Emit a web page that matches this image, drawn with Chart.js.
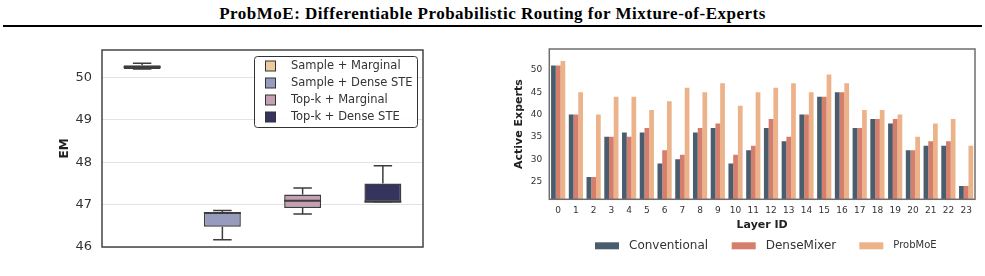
<!DOCTYPE html>
<html>
<head>
<meta charset="utf-8">
<script src="https://cdn.jsdelivr.net/npm/chart.js@4.4.1/dist/chart.umd.min.js"></script>
<style>
  body { margin: 0; background: #fff; width: 985px; height: 276px; overflow: hidden; position: relative; }
  #title { position: absolute; left: 0; top: 4px; width: 985px; text-align: center; letter-spacing: 0.5px;
           font: bold 17px "Liberation Serif", "Times New Roman", serif; color: #000; }
  #rule { position: absolute; left: 3px; top: 25px; width: 979px; height: 2px; background: #000; }
  #boxCanvas { position: absolute; left: 0; top: 30px; }
  #barCanvas { position: absolute; left: 490px; top: 30px; }
</style>
</head>
<body>
<div id="title">ProbMoE: Differentiable Probabilistic Routing for Mixture-of-Experts</div>
<div id="rule"></div>
<canvas id="boxCanvas" width="480" height="240"></canvas>
<canvas id="barCanvas" width="495" height="246"></canvas>
<script>
// left: EM box plot per routing variant
var methods = ['Sample + Marginal', 'Sample + Dense STE', 'Top-k + Marginal', 'Top-k + Dense STE'];
var emMin    = [50.20, 46.17, 46.78, 47.07];
var emQ1     = [50.20, 46.48, 46.92, 47.07];
var emMedian = [50.25, 46.80, 47.09, 47.07];
var emQ3     = [50.29, 46.82, 47.24, 47.50];
var emMax    = [50.34, 46.86, 47.39, 47.92];
var emTicks  = [46, 47, 48, 49, 50];

// right: active experts per layer
var layers = ['0','1','2','3','4','5','6','7','8','9','10','11','12','13','14','15','16','17','18','19','20','21','22','23'];
var conventional = [51, 40, 26, 35, 36, 36, 29, 30, 36, 37, 29, 32, 37, 34, 40, 44, 45, 37, 39, 38, 32, 33, 33, 24];
var denseMixer   = [51, 40, 26, 35, 35, 37, 32, 31, 37, 38, 31, 33, 39, 35, 40, 44, 45, 37, 39, 39, 32, 34, 34, 24];
var probMoE      = [52, 45, 40, 44, 44, 41, 43, 46, 45, 47, 42, 45, 46, 47, 45, 49, 47, 41, 41, 40, 35, 38, 39, 33];
var expertTicks  = [25, 30, 35, 40, 45, 50];

var boxColors = ['#eecb9c', '#979bbe', '#c4a0b2', '#34345e'];
var barColors = ['#4a5d6c', '#d57e6c', '#ecb38a'];
var FONT = '"DejaVu Sans", sans-serif';

function frame(color, w) {
  return {
    id: 'frame',
    afterDraw: function(chart) {
      var a = chart.chartArea, c = chart.ctx;
      c.save();
      c.strokeStyle = color;
      c.lineWidth = w;
      c.strokeRect(a.left, a.top, a.right - a.left, a.bottom - a.top);
      c.restore();
    }
  };
}

var whiskers = {
  id: 'whiskers',
  afterDatasetsDraw: function(chart) {
    var c = chart.ctx, y = chart.scales.y;
    var meta = chart.getDatasetMeta(0);
    c.save();
    c.strokeStyle = '#3d3d3d';
    c.lineWidth = 1.5;
    meta.data.forEach(function(bar, i) {
      var half = bar.width / 2, cap = bar.width / 4;
      var yMin = y.getPixelForValue(emMin[i]), yMax = y.getPixelForValue(emMax[i]);
      var yQ1 = y.getPixelForValue(emQ1[i]), yQ3 = y.getPixelForValue(emQ3[i]);
      var yMed = y.getPixelForValue(emMedian[i]);
      c.beginPath();
      c.moveTo(bar.x, yQ3); c.lineTo(bar.x, yMax);
      c.moveTo(bar.x - cap, yMax); c.lineTo(bar.x + cap, yMax);
      c.moveTo(bar.x, yQ1); c.lineTo(bar.x, yMin);
      c.moveTo(bar.x - cap, yMin); c.lineTo(bar.x + cap, yMin);
      c.stroke();
      c.beginPath();
      c.lineWidth = 2;
      c.moveTo(bar.x - half, yMed); c.lineTo(bar.x + half, yMed);
      c.stroke();
      c.lineWidth = 1.5;
    });
    c.restore();
  }
};

var boxLegend = {
  id: 'boxLegend',
  afterDraw: function(chart) {
    var c = chart.ctx;
    c.save();
    c.fillStyle = 'rgba(255,255,255,0.9)';
    c.strokeStyle = '#333';
    c.lineWidth = 1;
    c.beginPath();
    c.roundRect(254.5, 26.5, 163, 71, 3);
    c.fill(); c.stroke();
    c.font = '11.5px ' + FONT;
    c.textBaseline = 'middle';
    methods.forEach(function(m, i) {
      var cy = 36 + i * 17;
      c.fillStyle = boxColors[i];
      c.fillRect(265.5, cy - 5, 10, 10);
      c.strokeStyle = '#333';
      c.strokeRect(265.5, cy - 5, 10, 10);
      c.fillStyle = '#333';
      c.fillText(m, 291, cy + 0.5);
    });
    c.restore();
  }
};

new Chart(document.getElementById('boxCanvas'), {
  type: 'bar',
  data: {
    labels: methods,
    datasets: [{
      data: emQ1.map(function(q, i) { return [q, emQ3[i]]; }),
      backgroundColor: boxColors,
      borderColor: '#3d3d3d',
      borderWidth: 1.5,
      borderSkipped: false,
      categoryPercentage: 1,
      barPercentage: 0.46
    }]
  },
  options: {
    responsive: false,
    animation: false,
    devicePixelRatio: 1,
    layout: { padding: { left: 54, top: 20, right: 57, bottom: 23 } },
    plugins: { legend: { display: false }, tooltip: { enabled: false } },
    scales: {
      x: { display: false },
      y: {
        min: 46, max: 50.65,
        afterBuildTicks: function(s) { s.ticks = emTicks.map(function(v) { return { value: v }; }); },
        afterFit: function(s) { s.width = 48; },
        grid: { color: '#e3e3e3', lineWidth: 1, drawTicks: false },
        border: { display: false },
        ticks: { font: { family: FONT, size: 13 }, color: '#333', padding: 10 },
        title: { display: true, text: 'EM', font: { family: FONT, size: 12, weight: 'bold' }, color: '#222' }
      }
    }
  },
  plugins: [whiskers, frame('#444', 1.5), boxLegend]
});

var barLegend = {
  id: 'barLegend',
  afterDraw: function(chart) {
    var c = chart.ctx;
    var names = ['Conventional', 'DenseMixer', 'ProbMoE'];
    var xs = [105, 241.7, 369.3];
    var sizes = [12, 12, 10];
    c.save();
    c.textBaseline = 'middle';
    names.forEach(function(n, i) {
      c.fillStyle = barColors[i];
      c.fillRect(xs[i], 212.3, 24, 7);
      c.fillStyle = '#333';
      c.font = sizes[i] + 'px ' + FONT;
      c.fillText(n, xs[i] + 34, 215.7);
    });
    c.restore();
  }
};

new Chart(document.getElementById('barCanvas'), {
  type: 'bar',
  data: {
    labels: layers,
    datasets: [
      { label: 'Conventional', data: conventional, backgroundColor: barColors[0] },
      { label: 'DenseMixer', data: denseMixer, backgroundColor: barColors[1] },
      { label: 'ProbMoE', data: probMoE, backgroundColor: barColors[2] }
    ]
  },
  options: {
    responsive: false,
    animation: false,
    devicePixelRatio: 1,
    datasets: { bar: { categoryPercentage: 0.8, barPercentage: 1, borderWidth: 0 } },
    layout: { padding: { left: 19, top: 19, right: 10, bottom: 40.7 } },
    plugins: { legend: { display: false }, tooltip: { enabled: false } },
    scales: {
      x: {
        afterFit: function(s) { s.height = 36; },
        grid: { display: false, drawTicks: false },
        border: { display: false },
        ticks: { font: { family: FONT, size: 9 }, color: '#333', padding: 6, maxRotation: 0, autoSkip: false },
        title: { display: true, text: 'Layer ID', font: { family: FONT, size: 11, weight: 'bold' }, color: '#222' }
      },
      y: {
        min: 21, max: 54.7,
        afterBuildTicks: function(s) { s.ticks = expertTicks.map(function(v) { return { value: v }; }); },
        afterFit: function(s) { s.width = 40.3; },
        grid: { display: false, drawTicks: false },
        border: { display: false },
        ticks: { font: { family: FONT, size: 9 }, color: '#333', padding: 7 },
        title: { display: true, text: 'Active Experts', font: { family: FONT, size: 11, weight: 'bold' }, color: '#222' }
      }
    }
  },
  plugins: [frame('#6e6e6e', 1.5), barLegend]
});
</script>
</body>
</html>
